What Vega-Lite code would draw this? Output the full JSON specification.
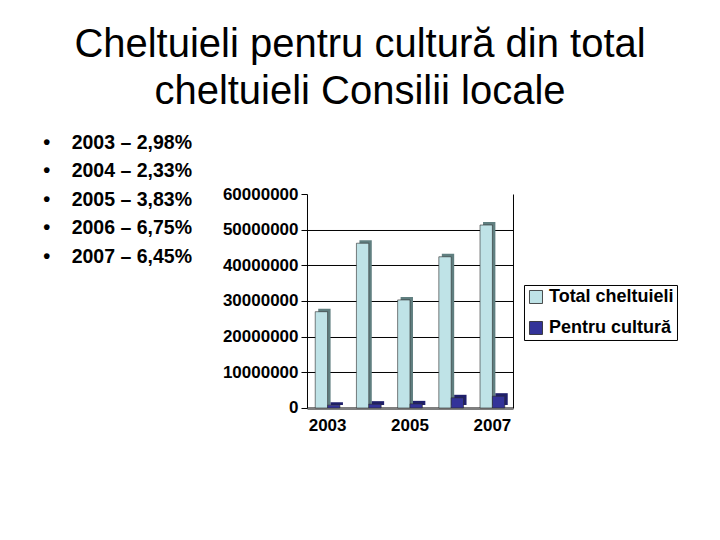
{
  "$schema": "https://vega.github.io/schema/vega-lite/v6.json",
  "background": "white",
  "padding": {"left": 36.7, "top": 24, "right": 0, "bottom": 0},
  "autosize": {"type": "pad"},
  "config": {"font": "Liberation Sans", "view": {"stroke": null}},
  "title": {
    "text": ["Cheltuieli pentru cultură din total", "cheltuieli Consilii locale"],
    "font": "Liberation Sans",
    "fontSize": 40,
    "fontWeight": "normal",
    "color": "black",
    "lineHeight": 48,
    "anchor": "middle",
    "dx": 2.9,
    "offset": 20
  },
  "datasets": {
    "procente": [
      {"an": "2003", "eticheta": "2003 – 2,98%"},
      {"an": "2004", "eticheta": "2004 – 2,33%"},
      {"an": "2005", "eticheta": "2005 – 3,83%"},
      {"an": "2006", "eticheta": "2006 – 6,75%"},
      {"an": "2007", "eticheta": "2007 – 6,45%"}
    ],
    "cheltuieli": [
      {"an": "2003", "serie": "Total cheltuieli", "valoare": 27000000},
      {"an": "2004", "serie": "Total cheltuieli", "valoare": 46200000},
      {"an": "2005", "serie": "Total cheltuieli", "valoare": 30300000},
      {"an": "2006", "serie": "Total cheltuieli", "valoare": 42400000},
      {"an": "2007", "serie": "Total cheltuieli", "valoare": 51300000},
      {"an": "2003", "serie": "Pentru cultură", "valoare": 804600},
      {"an": "2004", "serie": "Pentru cultură", "valoare": 1076500},
      {"an": "2005", "serie": "Pentru cultură", "valoare": 1160500},
      {"an": "2006", "serie": "Pentru cultură", "valoare": 2862000},
      {"an": "2007", "serie": "Pentru cultură", "valoare": 3308900}
    ]
  },
  "bounds": "flush",
  "spacing": 250.3,
  "hconcat": [
    {
      "width": 20,
      "height": 143,
      "data": {"name": "procente"},
      "encoding": {
        "y": {"field": "an", "type": "ordinal", "axis": null, "scale": {"paddingInner": 0, "paddingOuter": 0}}
      },
      "layer": [
        {
          "mark": {"type": "text", "text": "•", "font": "Liberation Sans", "fontSize": 20, "fontWeight": "bold", "color": "black", "align": "center", "baseline": "middle", "dy": -65.8}
        },
        {
          "mark": {"type": "text", "font": "Liberation Sans", "fontSize": 19.5, "fontWeight": "bold", "color": "black", "align": "left", "baseline": "middle", "dx": 25, "dy": -65.8},
          "encoding": {"text": {"field": "eticheta", "type": "nominal"}}
        }
      ]
    },
    {
      "width": 206,
      "height": 214,
      "data": {"name": "cheltuieli"},
      "resolve": {"axis": {"y": "independent"}, "scale": {"xOffset": "independent"}},
      "encoding": {
        "x": {
          "field": "an", "type": "ordinal", "title": null,
          "scale": {"paddingInner": 0.4, "paddingOuter": 0.2},
          "axis": {
            "values": ["2003", "2005", "2007"],
            "labelAngle": 0,
            "labelFont": "Liberation Sans",
            "labelFontSize": 17,
            "labelFontWeight": "bold",
            "labelColor": "black",
            "ticks": false,
            "tickSize": 0,
            "domainColor": "#7f7f7f",
            "domainWidth": 3,
            "labelPadding": 10
          }
        }
      },
      "layer": [
        {
          "mark": {"type": "bar", "yOffset": -3},
          "encoding": {
            "xOffset": {"field": "serie", "type": "nominal", "sort": ["Total cheltuieli", "Pentru cultură"], "scale": {"range": [3, 27.7]}},
            "y": {"field": "valoare", "type": "quantitative", "title": null, "scale": {"domain": [0, 60000000], "nice": false},
              "axis": {
                "values": [0, 10000000, 20000000, 30000000, 40000000, 50000000, 60000000],
                "format": "d",
                "labelFont": "Liberation Sans",
                "labelFontSize": 17,
                "labelFontWeight": "bold",
                "labelColor": "black",
                "domainColor": "black",
                "tickColor": "black",
                "tickSize": 6,
                "labelPadding": 3,
                "grid": true,
                "gridColor": {"condition": {"test": "datum.value === 0 || datum.value === 60000000", "value": "transparent"}, "value": "black"},
                "gridOpacity": 1,
                "gridWidth": 1
              }
            },
            "color": {"condition": {"test": "datum.serie === 'Total cheltuieli'", "value": "#607F80"}, "value": "#1F1F6B"}
          }
        },
        {
          "mark": {"type": "bar", "stroke": "#2a2a2a", "strokeWidth": 0.6},
          "encoding": {
            "xOffset": {"field": "serie", "type": "nominal", "sort": ["Total cheltuieli", "Pentru cultură"]},
            "y": {"field": "valoare", "type": "quantitative", "axis": null},
            "color": {
              "field": "serie", "type": "nominal",
              "sort": ["Total cheltuieli", "Pentru cultură"],
              "scale": {"domain": ["Total cheltuieli", "Pentru cultură"], "range": ["#BFE3E7", "#333399"]},
              "legend": {
                "orient": "none",
                "legendX": 487.3,
                "legendY": 91,
                "title": null,
                "direction": "vertical",
                "strokeColor": "black",
                "fillColor": "white",
                "padding": 3,
                "symbolType": "square",
                "symbolSize": 169,
                "symbolStrokeColor": "#222222",
                "symbolStrokeWidth": 0.8,
                "symbolOpacity": 1,
                "labelFont": "Liberation Sans",
                "labelFontSize": 18,
                "labelFontWeight": "bold",
                "labelColor": "black",
                "labelOffset": 4,
                "rowPadding": 13,
                "labelLimit": 300
              }
            }
          }
        },
        {
          "mark": {"type": "rule", "opacity": 0},
          "encoding": {
            "y": {
              "field": "valoare", "type": "quantitative",
              "axis": {"orient": "right", "labels": false, "ticks": false, "grid": false, "domain": true, "domainColor": "black", "title": null}
            }
          }
        }
      ]
    }
  ]
}
